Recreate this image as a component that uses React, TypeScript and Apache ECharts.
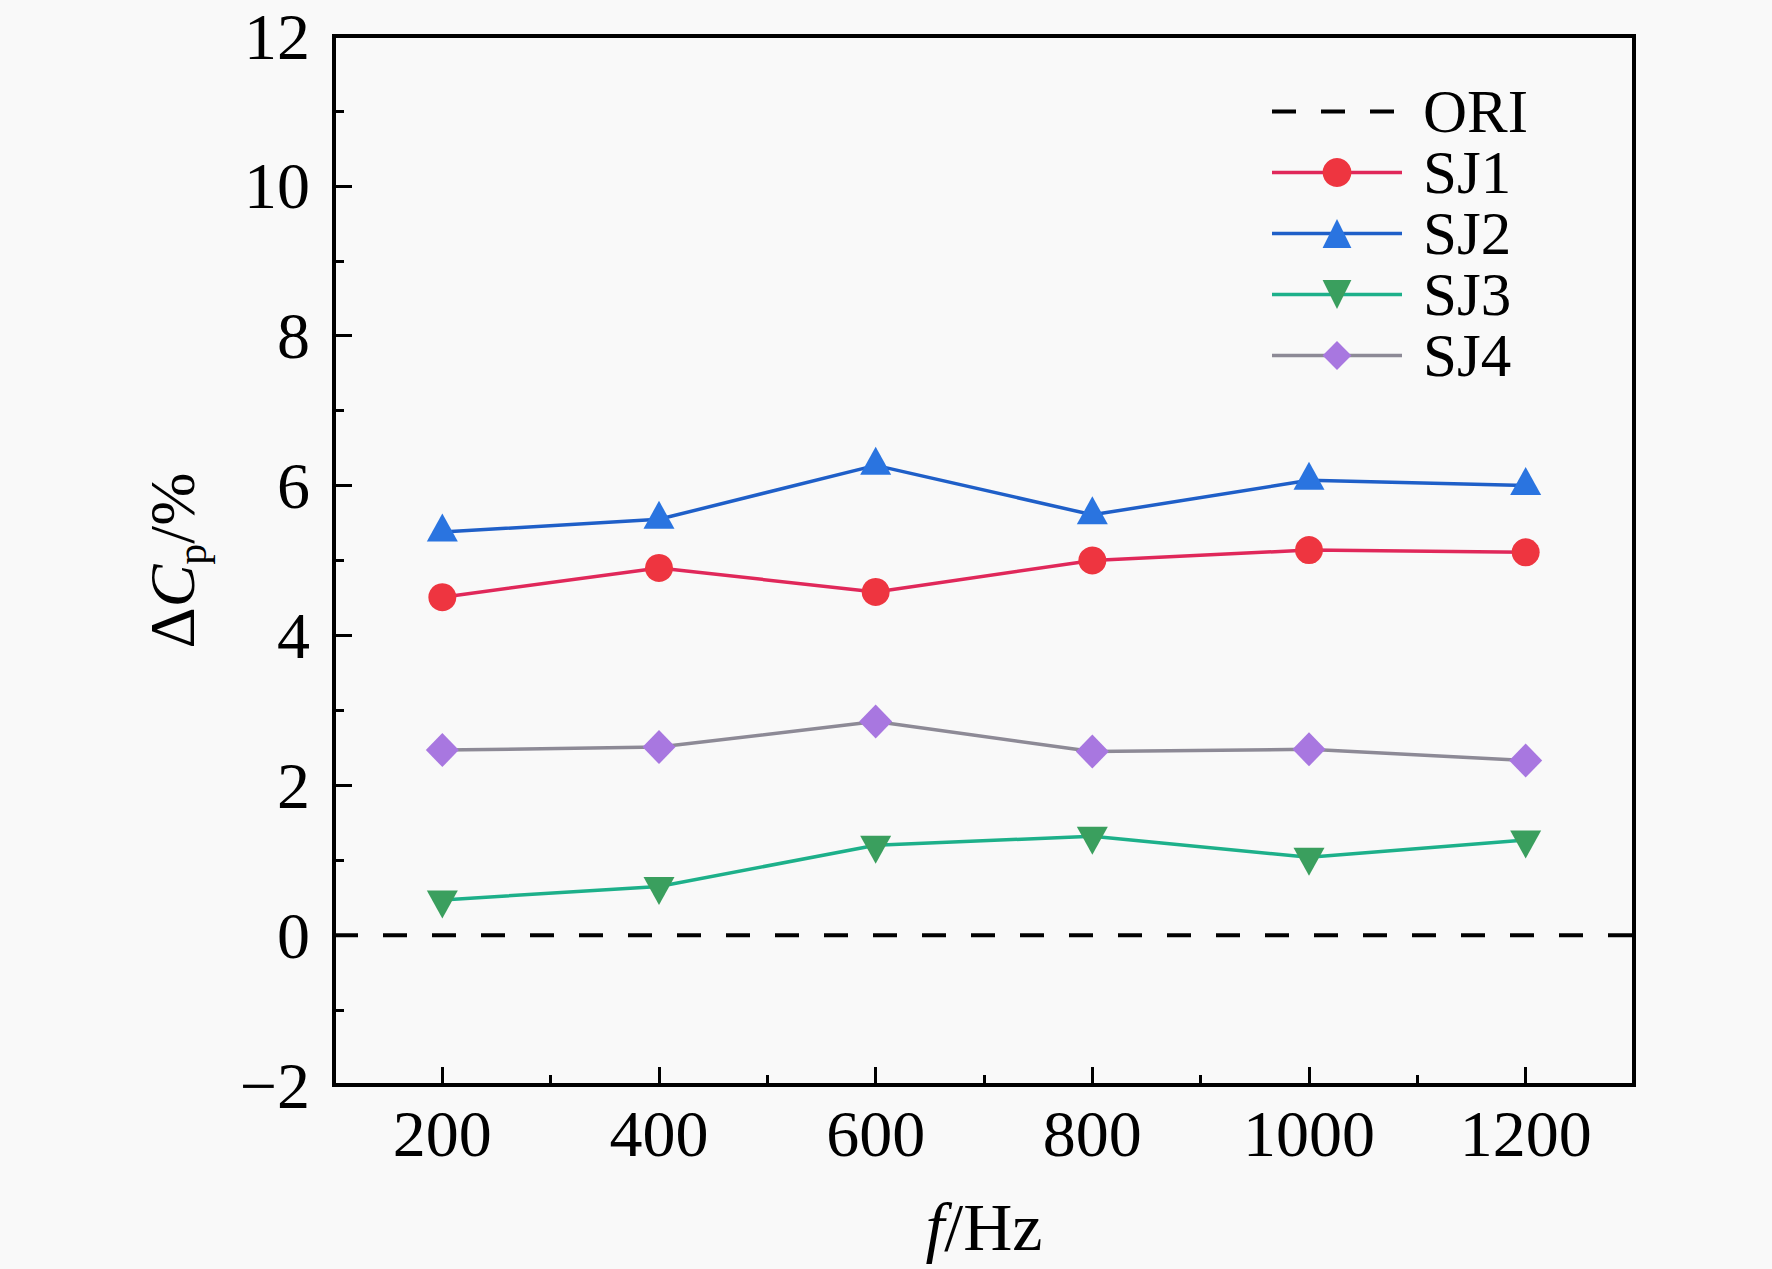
import React, { useEffect, useRef } from "react";
import * as echarts from "echarts";

const freqs = [200, 400, 600, 800, 1000, 1200];
const minorFreqs = [300, 500, 700, 900, 1100];
const xRange = [100, 1300];
const oriY = [0, 0];
const sj1 = [4.51, 4.9, 4.58, 5.0, 5.14, 5.11];
const sj2 = [5.38, 5.55, 6.27, 5.61, 6.07, 6.0];
const sj3 = [0.47, 0.65, 1.2, 1.32, 1.04, 1.27];
const sj4 = [2.47, 2.51, 2.85, 2.45, 2.48, 2.33];
const seriesNames = ["ORI", "SJ1", "SJ2", "SJ3", "SJ4"];

const FONT = "'Liberation Serif', 'Times New Roman', serif";

export default function App() {
  const ref = useRef<HTMLDivElement>(null);

  useEffect(() => {
    document.body.style.margin = "0";
    const chart = echarts.init(ref.current!, undefined, { renderer: "svg" });
    const pair = (arr: number[]) => freqs.map((f, i) => [f, arr[i]]);

    const option: any = {
      animation: false,
      backgroundColor: "#f9f9f9",
      textStyle: { fontFamily: FONT, color: "#000" },
      grid: {
        left: 334,
        right: 138,
        top: 36,
        bottom: 184,
        show: true,
        borderColor: "#000",
        borderWidth: 4,
        backgroundColor: "transparent",
      },
      legend: {
        orient: "vertical",
        left: 1265,
        top: 76,
        itemWidth: 130,
        itemHeight: 36,
        itemGap: 0,
        selectedMode: false,
        lineStyle: { width: 3.5 },
        data: [
          { name: seriesNames[0], lineStyle: { width: 4, type: [24, 25] }, itemStyle: { color: "rgba(0,0,0,0)" } },
          seriesNames[1],
          seriesNames[2],
          seriesNames[3],
          seriesNames[4],
        ],
        textStyle: {
          fontFamily: FONT,
          fontSize: 61,
          color: "#000",
          padding: [0, 0, 0, 16],
        },
      },
      xAxis: [
        {
          type: "value",
          min: xRange[0],
          max: xRange[1],
          position: "bottom",
          name: "{i|f}{n|/Hz}",
          nameLocation: "middle",
          nameGap: 108,
          nameTextStyle: {
            rich: {
              i: { fontFamily: FONT, fontSize: 68, fontStyle: "italic", color: "#000", lineHeight: 68 },
              n: { fontFamily: FONT, fontSize: 68, color: "#000", lineHeight: 68 },
            },
          },
          splitLine: { show: false },
          axisLine: { show: true, onZero: false, lineStyle: { color: "#000", width: 4 } },
          axisTick: {
            show: true,
            inside: true,
            length: 18,
            customValues: freqs,
            lineStyle: { color: "#000", width: 3 },
          },
          axisLabel: {
            customValues: freqs,
            fontFamily: FONT,
            fontSize: 66,
            color: "#000",
            margin: 15,
            formatter: (v: number) => String(v),
          },
        },
        {
          type: "value",
          min: xRange[0],
          max: xRange[1],
          position: "bottom",
          gridIndex: 0,
          splitLine: { show: false },
          axisLine: { show: false, onZero: false },
          axisTick: {
            show: true,
            inside: true,
            length: 10,
            customValues: minorFreqs,
            lineStyle: { color: "#000", width: 3 },
          },
          axisLabel: { show: false },
        },
      ],
      yAxis: {
        type: "value",
        min: -2,
        max: 12,
        interval: 2,
        name: "{d|Δ}{c|C}{s|p}{d|/%}",
        nameLocation: "middle",
        nameRotate: 90,
        nameGap: 130,
        nameTextStyle: {
          rich: {
            d: { fontFamily: FONT, fontSize: 64, color: "#000", lineHeight: 64 },
            c: { fontFamily: FONT, fontSize: 64, fontStyle: "italic", color: "#000", lineHeight: 64 },
            s: { fontFamily: FONT, fontSize: 42, color: "#000", height: 24, lineHeight: 24, verticalAlign: "bottom" },
          },
        },
        splitLine: { show: false },
        axisLine: { show: true, onZero: false, lineStyle: { color: "#000", width: 4 } },
        axisTick: { show: true, inside: true, length: 18, lineStyle: { color: "#000", width: 3 } },
        minorTick: { show: true, splitNumber: 2, length: 10, lineStyle: { color: "#000", width: 3 } },
        minorSplitLine: { show: false },
        axisLabel: {
          fontFamily: FONT,
          fontSize: 66,
          color: "#000",
          margin: 24,
          formatter: (v: number) => String(v).replace("-", "\u2212"),
        },
      },
      series: [
        {
          name: "ORI",
          type: "line",
          data: xRange.map((x, i) => [x, oriY[i]]),
          symbol: "none",
          itemStyle: { color: "rgba(0,0,0,0)" },
          lineStyle: { color: "#000", width: 4, type: [24, 25] },
          z: 1,
        },
        {
          name: "SJ1",
          type: "line",
          data: pair(sj1),
          symbol: "circle",
          symbolSize: 28,
          itemStyle: { color: "#ee3540" },
          lineStyle: { color: "#e0285a", width: 3.5 },
          z: 3,
        },
        {
          name: "SJ2",
          type: "line",
          data: pair(sj2),
          symbol: "triangle",
          symbolSize: [31, 28],
          symbolOffset: [0, -4.5],
          itemStyle: { color: "#2a74e0" },
          lineStyle: { color: "#1f5fc8", width: 3.5 },
          z: 3,
        },
        {
          name: "SJ3",
          type: "line",
          data: pair(sj3),
          symbol: "triangle",
          symbolRotate: 180,
          symbolSize: [31, 28],
          symbolOffset: [0, 4.5],
          itemStyle: { color: "#3a9f5e" },
          lineStyle: { color: "#1db08a", width: 3.5 },
          z: 3,
        },
        {
          name: "SJ4",
          type: "line",
          data: pair(sj4),
          symbol: "diamond",
          symbolSize: [33, 34],
          itemStyle: { color: "#a877e0" },
          lineStyle: { color: "#8d8a96", width: 3.5 },
          z: 3,
        },
      ],
    };

    chart.setOption(option);
    return () => chart.dispose();
  }, []);

  return <div ref={ref} style={{ width: 1772, height: 1269 }} />;
}
